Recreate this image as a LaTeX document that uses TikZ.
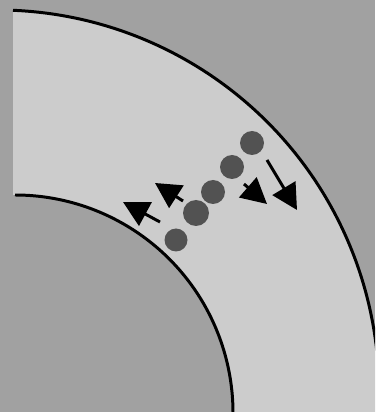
\documentclass[tikz,border=0pt]{standalone}
\usepackage{tikz}
\usetikzlibrary{arrows.meta}
\definecolor{wallgray}{gray}{0.63}
\definecolor{flowgray}{gray}{0.8}
\definecolor{beadgray}{gray}{0.32}

\begin{document}
\begin{tikzpicture}[x=0.02cm, y=0.02cm,
    bead/.style={circle, fill=beadgray, inner sep=0pt, minimum size=0.48cm},
    move/.style={line width=1.7pt, -{Triangle[length=14.5pt, width=15pt]}}]
    \useasboundingbox (0,0) rectangle (375,412);
    \clip (0,0) rectangle (375,412);
    \fill[wallgray] (0,0) rectangle (375,412);

    % channel
    \fill[flowgray] (13,401.7) arc[start angle=87.6, end angle=-10, radius=382] -- (233,-50) -- (233,-1) arc[start angle=0, end angle=90, radius=218] -- (13,217) -- cycle;
    \draw[line width=1.7pt] (13,401.7) arc[start angle=87.6, end angle=-10, radius=382];
    \draw[line width=1.7pt] (15,217) arc[start angle=90, end angle=-5, radius=218];

    % beads
    \node[bead] (b1) at (252,269) {};
    \node[bead] (b2) at (232,245) {};
    \node[bead] (b3) at (213,220) {};
    \node[bead, minimum size=0.52cm] (b4) at (196,199) {};
    \node[bead, minimum size=0.46cm] (b5) at (176,172) {};

    \draw[move] (267,252) -- (297,202);
    \draw[move] (244,228) -- (267,208);
    \draw[move] (160,190) -- (123,210);
    \draw[move] (183,211) -- (155,229);
\end{tikzpicture}
\end{document}
